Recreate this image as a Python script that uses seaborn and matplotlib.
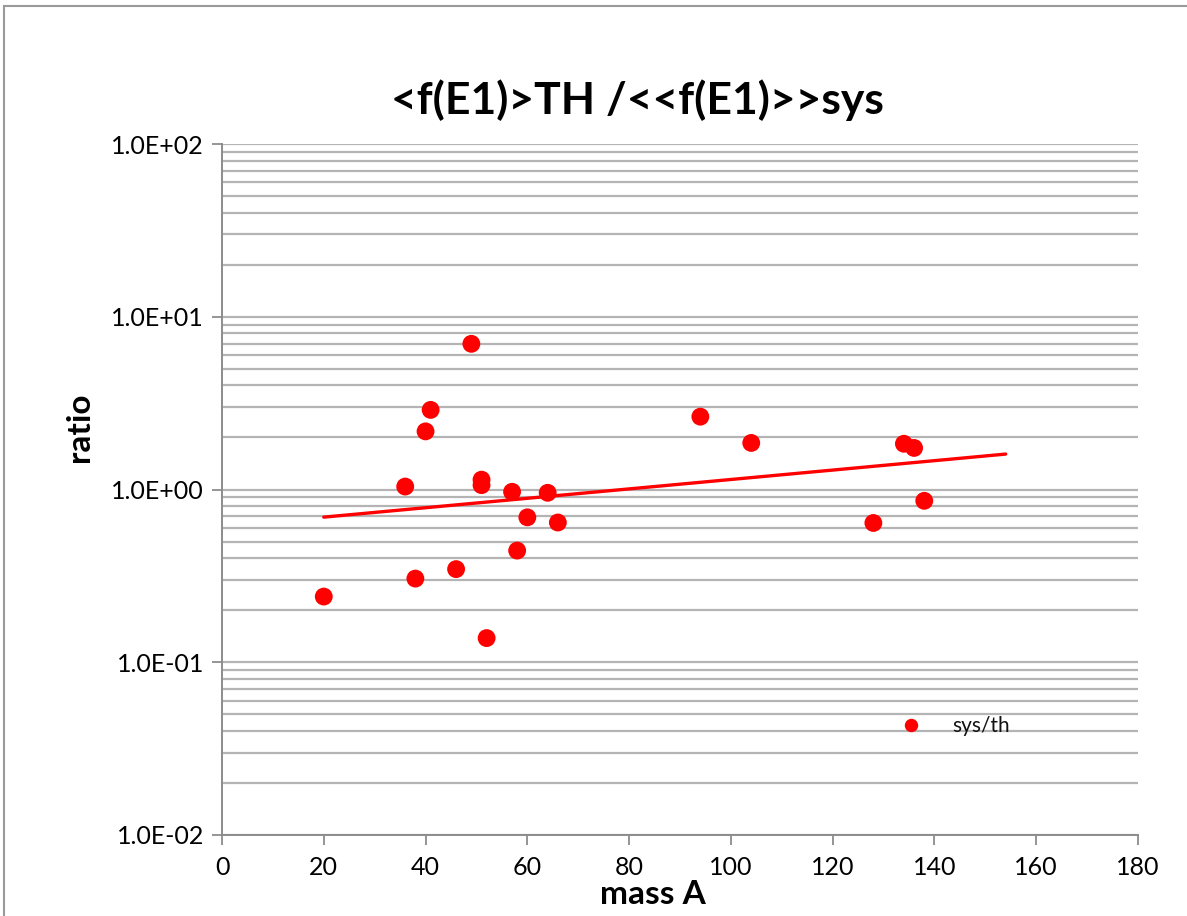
import numpy as np
import pandas as pd
import matplotlib
matplotlib.use("Agg")
import matplotlib.pyplot as plt
import matplotlib.ticker as mticker
from matplotlib.patches import Rectangle
import seaborn as sns

# ---- data ----
mass_A = [20, 36, 38, 40, 41, 46, 49, 51, 51, 52, 57, 58, 60, 64, 66,
          94, 104, 128, 134, 136, 138]
ratio = [0.24, 1.04, 0.305, 2.17, 2.89, 0.346, 6.97, 1.14, 1.06, 0.138, 0.97,
         0.443, 0.69, 0.957, 0.644, 2.64, 1.86, 0.64, 1.84, 1.74, 0.86]
series_label = "sys/th"
title_text = "<f(E1)>TH /<<f(E1)>>sys"
x_label = "mass A"
y_label = "ratio"
x_ticks = [0, 20, 40, 60, 80, 100, 120, 140, 160, 180]
y_ticks = [1e-2, 1e-1, 1e0, 1e1, 1e2]
y_tick_labels = ["1.0E-02", "1.0E-01", "1.0E+00", "1.0E+01", "1.0E+02"]
trend_forward = 16  # Excel-style forecast forward on exponential trendline

df = pd.DataFrame({"mass A": mass_A, "ratio": ratio, "series": series_label})

# exponential trendline (fit in log space)
b, a = np.polyfit(df["mass A"], np.log(df["ratio"]), 1)
tx = np.linspace(min(mass_A), max(mass_A) + trend_forward, 50)
trend = pd.DataFrame({"x": tx, "y": np.exp(a + b * tx)})

sns.set_theme(style="white")
plt.rcParams["font.family"] = ["Lato", "DejaVu Sans"]
plt.rcParams["text.color"] = "black"
plt.rcParams["axes.labelcolor"] = "black"
plt.rcParams["xtick.color"] = "black"
plt.rcParams["ytick.color"] = "black"

W, H = 1187, 916
fig = plt.figure(figsize=(W / 100, H / 100), dpi=100)
ax = fig.add_axes([222 / W, 1 - 835 / H, (1138 - 222) / W, (835 - 144) / H])

grid_c = "#b4b4b4"
ax.set_yscale("log")
ax.set_ylim(1e-2, 1e2)
ax.set_xlim(0, 180)

ax.yaxis.set_major_locator(mticker.FixedLocator(y_ticks))
ax.yaxis.set_major_formatter(mticker.FixedFormatter(y_tick_labels))
ax.yaxis.set_minor_locator(mticker.LogLocator(base=10, subs=np.arange(2, 10)))
ax.yaxis.set_minor_formatter(mticker.NullFormatter())
ax.xaxis.set_major_locator(mticker.FixedLocator(x_ticks))

ax.grid(True, which="major", axis="y", color=grid_c, lw=1.6)
ax.grid(True, which="minor", axis="y", color=grid_c, lw=1.6)
ax.grid(False, axis="x")
ax.set_axisbelow(True)

sns.lineplot(data=trend, x="x", y="y", ax=ax, color="#ff0000", lw=2.4,
             legend=False, zorder=3, solid_capstyle="round")
sns.scatterplot(data=df, x="mass A", y="ratio", hue="series",
                palette=["#ff0000"], s=165, edgecolor="none", ax=ax, zorder=4)

for side in ["top", "right"]:
    ax.spines[side].set_visible(False)
for side in ["left", "bottom"]:
    ax.spines[side].set_color("#8c8c8c")
    ax.spines[side].set_linewidth(1.4)

ax.tick_params(axis="y", which="major", direction="out", length=7, width=1.3,
               color="#8c8c8c", labelcolor="black", labelsize=18, pad=6, left=True)
ax.tick_params(axis="y", which="minor", length=0, left=False)
ax.tick_params(axis="x", which="major", direction="out", length=7, width=1.3,
               color="#8c8c8c", labelcolor="black", labelsize=18, pad=8, bottom=True)

ax.set_xlabel(x_label, fontsize=24, fontweight="bold", color="black")
ax.set_ylabel(y_label, fontsize=24, fontweight="bold", color="black")
ax.xaxis.set_label_coords(0.47, -0.065)
ax.yaxis.set_label_coords(-0.14, 0.59)

fig.text(637 / W, 1 - 100 / H, title_text, ha="center", va="center",
         fontsize=32, fontweight="bold", color="black")

leg = ax.legend(loc="center left", bbox_to_anchor=(0.72, 0.158),
                frameon=False, fontsize=15, handletextpad=1.0,
                markerscale=0.75, borderaxespad=0)
for t in leg.get_texts():
    t.set_color("#111111")

# chart-area border (partially visible as in the reference)
fig.patches.append(Rectangle((4 / W, -0.05), 1.2, 1 - 6 / H + 0.05,
                             transform=fig.transFigure, fill=False,
                             edgecolor="#9a9a9a", lw=1.5))

fig.savefig("out.png", dpi=100, facecolor="white")
